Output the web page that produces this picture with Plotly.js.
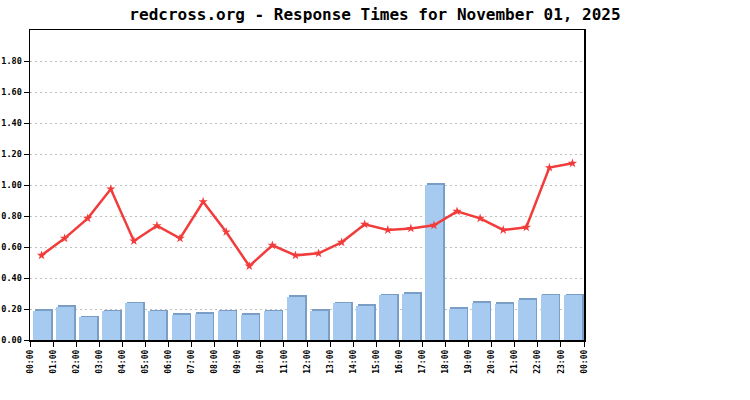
<!DOCTYPE html>
<html>
<head>
<meta charset="utf-8">
<script src="https://cdn.plot.ly/plotly-3.0.1.min.js"></script>
<style>
  html, body { margin: 0; padding: 0; background: #fff; }
  #chart { width: 750px; height: 400px; }
</style>
</head>
<body>
<div id="chart"></div>
<script>
// Hour labels at the slot boundaries (25 of them, wrapping back to 00:00)
const hourLabels = ['00:00', '01:00', '02:00', '03:00', '04:00', '05:00', '06:00', '07:00',
  '08:00', '09:00', '10:00', '11:00', '12:00', '13:00', '14:00', '15:00', '16:00', '17:00',
  '18:00', '19:00', '20:00', '21:00', '22:00', '23:00', '00:00'];

// Y tick values (no label at the 2.00 top edge)
const yTicks = [0, 0.2, 0.4, 0.6, 0.8, 1.0, 1.2, 1.4, 1.6, 1.8];

// Bar series (one per hour)
const barValues = [0.19, 0.215, 0.146, 0.185, 0.237, 0.185, 0.163, 0.17, 0.185, 0.163, 0.185, 0.279,
  0.189, 0.237, 0.221, 0.29, 0.299, 1.0, 0.202, 0.241, 0.234, 0.258, 0.29, 0.29];

// Line series (one per hour)
const lineValues = [0.546, 0.656, 0.785, 0.974, 0.639, 0.737, 0.656, 0.892, 0.697, 0.477, 0.611, 0.546,
  0.559, 0.630, 0.746, 0.710, 0.720, 0.740, 0.830, 0.785, 0.710, 0.727, 1.112, 1.140];

const monoFont = 'DejaVu Sans Mono, Liberation Mono, monospace';

// bars sit in the middle of each hour slot
const slotCenters = barValues.map((v, i) => i + 0.5);
const tickPositions = hourLabels.map((h, i) => i);

// darker copy behind each bar, nudged right and up, for the bevel look
const shadowBars = {
  x: slotCenters,
  y: barValues.map(v => v + 0.01),
  type: 'bar',
  width: 0.78,
  offset: -0.3,
  marker: { color: '#7a9ec6', line: { width: 0 } },
  hoverinfo: 'skip',
  showlegend: false
};

const bars = {
  x: slotCenters,
  y: barValues,
  type: 'bar',
  width: 0.78,
  offset: -0.37,
  marker: { color: '#a6caf0', line: { width: 0 } },
  showlegend: false
};

const line = {
  x: slotCenters,
  y: lineValues,
  type: 'scatter',
  mode: 'lines+markers',
  line: { color: '#f23c3c', width: 2.5 },
  marker: { color: '#f23c3c', symbol: 'star', size: 7 },
  showlegend: false
};

const layout = {
  width: 750,
  height: 400,
  title: {
    text: 'redcross.org - Response Times for November 01, 2025',
    font: { family: monoFont, size: 16, color: '#000', weight: 'bold' },
    x: 0.5,
    xanchor: 'center',
    y: 0.978,
    yanchor: 'top'
  },
  margin: { l: 30, r: 166, t: 30, b: 60 },
  barmode: 'overlay',
  bargap: 0,
  xaxis: {
    range: [0, 24],
    tickmode: 'array',
    tickvals: tickPositions,
    ticktext: hourLabels,
    tickangle: -90,
    ticks: 'outside',
    ticklen: 5,
    tickcolor: '#000',
    tickfont: { family: monoFont, size: 8, color: '#000', weight: 'bold' },
    showgrid: false,
    zeroline: false,
    showline: true,
    linecolor: '#000',
    linewidth: 1.5,
    mirror: true,
    fixedrange: true
  },
  yaxis: {
    range: [0, 2],
    tickmode: 'array',
    tickvals: yTicks,
    tickformat: '.2f',
    ticks: 'outside',
    ticklen: 5,
    tickcolor: '#000',
    tickfont: { family: monoFont, size: 8.5, color: '#000', weight: 'bold' },
    showgrid: true,
    gridcolor: '#c0c0c0',
    gridwidth: 1,
    griddash: '2px,3px',
    zeroline: false,
    showline: true,
    linecolor: '#000',
    linewidth: 1.5,
    mirror: true,
    fixedrange: true
  },
  plot_bgcolor: '#fff',
  paper_bgcolor: '#fff'
};

Plotly.newPlot('chart', [shadowBars, bars, line], layout, { displayModeBar: false, staticPlot: true });
</script>
</body>
</html>
